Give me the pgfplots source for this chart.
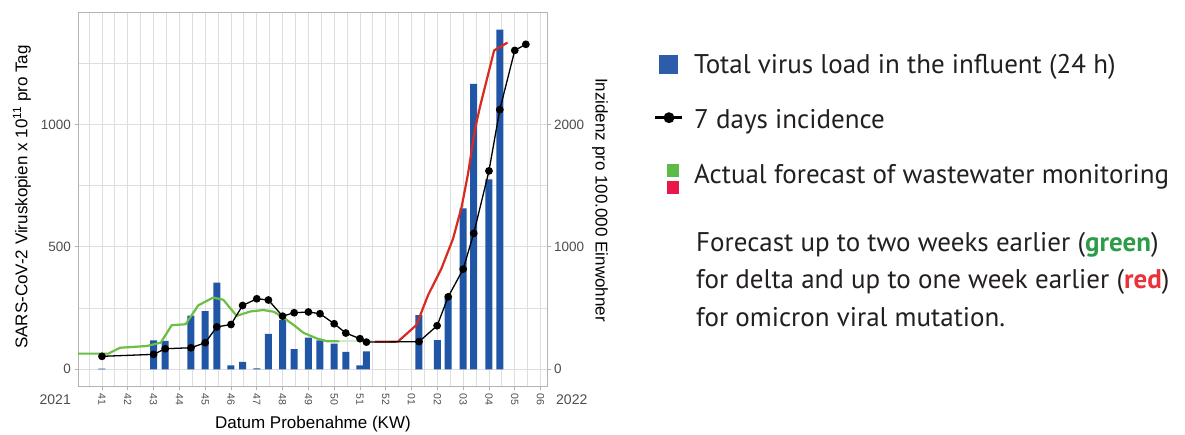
\documentclass[border=0pt]{standalone}
\usepackage{pgfplots}
\pgfplotsset{compat=1.18}
\usepackage{pgfplotstable}
\usepackage{fontspec}
\setmainfont{Liberation Sans}
\newfontfamily\legfont{PT Sans}
\definecolor{barblue}{HTML}{2155A5}
\definecolor{lgreen}{HTML}{6CBF45}
\definecolor{fadegreen}{HTML}{D3EBC6}
\definecolor{lred}{HTML}{DA2A1F}
\definecolor{gridc}{HTML}{DEDEDE}
\definecolor{borderc}{HTML}{B3B3B3}
\definecolor{tickc}{HTML}{4D4D4D}
\definecolor{legblue}{HTML}{2D5DAA}
\definecolor{leggreen}{HTML}{5DBA47}
\definecolor{legred}{HTML}{E8184A}
\definecolor{txtgreen}{HTML}{2E9B48}
\definecolor{txtred}{HTML}{E8333A}
\definecolor{legtext}{HTML}{231F20}

% week index: 41->0 ... 52->11, 01->12 ... 06->17
\pgfplotstableread{
x y
0.00 3
2.00 118
2.45 116
3.45 219
4.00 238
4.45 354
5.00 16
5.45 30
6.00 4
6.45 145
7.00 202
7.45 82
8.00 129
8.45 118
9.00 105
9.45 71
10.00 16
10.25 73
12.28 221
13.00 119
13.42 292
14.00 657
14.41 1165
15.00 775
15.42 1387
}\barsdata

\pgfplotstableread{
x y
0.00 106
2.00 122
2.45 168
3.45 176
4.00 217
4.45 346
5.00 366
5.45 521
6.00 576
6.45 566
7.00 434
7.45 462
8.00 468
8.45 454
9.00 372
9.45 296
10.00 250
10.25 222
12.29 226
12.99 356
13.42 592
14.00 818
14.41 1110
15.00 1620
15.42 2120
16.00 2604
16.43 2654
}\incdata

\pgfplotstableread{
x y
-0.93 64
0.24 64
0.70 88
1.73 95
2.28 109
2.70 180
3.24 184
3.73 261
4.31 293
4.70 284
5.22 218
5.74 236
6.25 242
6.66 235
6.98 215
7.43 181
7.81 149
8.33 126
8.71 115
9.20 114
}\greendata

\pgfplotstableread{
x y
9.20 114
10.50 114
}\fadedata

\pgfplotstableread{
x y
10.57 113
11.47 113
12.19 181
12.64 303
13.16 412
13.61 534
13.94 663
14.19 799
14.45 976
14.65 1071
15.20 1302
15.72 1334
}\reddata

\begin{document}
\begin{tikzpicture}[x=1pt,y=1pt]
\useasboundingbox (0,0) rectangle (1185,434);
\begin{axis}[
  at={(78pt,47.3pt)}, anchor=south west,
  width=469pt, height=374pt, scale only axis,
  xmin=-0.93, xmax=17.25, ymin=-71, ymax=1456,
  axis line style={draw=borderc, line width=0.9pt},
  xtick={0,...,17},
  xticklabels={41,42,43,44,45,46,47,48,49,50,51,52,01,02,03,04,05,06},
  minor xtick={-0.5,0.5,...,17.5},
  ytick={0,500,1000},
  minor ytick={250,750,1250},
  grid=both,
  major grid style={draw=gridc, line width=0.9pt},
  minor grid style={draw=gridc, line width=0.8pt},
  tick align=outside,
  major tick length=3.5pt, minor tick length=0pt,
  tick style={draw=borderc, line width=0.8pt},
  xtick pos=left, ytick pos=left,
  x tick label style={rotate=-90, anchor=west, font=\fontsize{10.5}{12}\selectfont, text=tickc},
  y tick label style={font=\fontsize{13.5}{15}\selectfont, text=tickc},
  /pgf/number format/assume math mode=true,
  /pgf/number format/1000 sep={},
]
\addplot[ybar, bar width=7pt, fill=barblue, draw=none] table[x=x,y=y] {\barsdata};
\addplot[fadegreen, line width=2.2pt] table[x=x,y=y] {\fadedata};
\addplot[lgreen, line width=2.2pt, line join=round] table[x=x,y=y] {\greendata};
\addplot[lred, line width=2.2pt, line join=round] table[x=x,y=y] {\reddata};
\end{axis}
\begin{axis}[
  at={(78pt,47.3pt)}, anchor=south west,
  width=469pt, height=374pt, scale only axis,
  xmin=-0.93, xmax=17.25, ymin=-142, ymax=2912,
  axis x line=none, axis y line*=right,
  y axis line style={draw=borderc, line width=0.9pt},
  ytick={0,1000,2000},
  tick align=outside, major tick length=3.5pt,
  tick style={draw=borderc, line width=0.8pt},
  y tick label style={font=\fontsize{13.5}{15}\selectfont, text=tickc},
  /pgf/number format/assume math mode=true,
  /pgf/number format/1000 sep={},
]
\addplot[black, line width=1.3pt, mark=*, mark size=3.2pt, mark options={fill=black}] table[x=x,y=y] {\incdata};
\end{axis}
% axis texts
\node[rotate=90, font=\fontsize{17}{20}\selectfont] at (22,237) {SARS-CoV-2 Viruskopien x 10\textsuperscript{11} pro Tag};
\node[rotate=-90, font=\fontsize{17}{20}\selectfont] at (600,234) {Inzidenz pro 100.000 Einwohner};
\node[font=\fontsize{17}{20}\selectfont] at (313,10) {Datum Probenahme (KW)};
\node[anchor=east, font=\fontsize{14}{16}\selectfont, text=tickc, inner sep=0] at (71,34) {2021};
\node[anchor=west, font=\fontsize{14}{16}\selectfont, text=tickc, inner sep=0] at (556,34) {2022};
% legend
\fill[legblue] (659,360) rectangle (678,379);
\draw[black, line width=3pt] (655,316.3) -- (682,316.3);
\fill[black] (669,316.3) circle (5.5pt);
\fill[leggreen] (667,257.3) rectangle (679,270);
\fill[legred] (667,240) rectangle (679,253);
\begin{scope}[every node/.style={anchor=base west, inner sep=0, text=legtext, font=\legfont\fontsize{27}{32}\selectfont}]
\node at (694,360.7) {Total virus load in the influent (24 h)};
\node at (694,305.7) {7 days incidence};
\node at (694,250) {Actual forecast of wastewater monitoring};
\node at (696,182.3) {Forecast up to two weeks earlier ({\color{txtgreen}\bfseries green})};
\node at (696,145.7) {for delta and up to one week earlier ({\color{txtred}\bfseries red})};
\node at (696,108) {for omicron viral mutation.};
\end{scope}
\end{tikzpicture}
\end{document}
